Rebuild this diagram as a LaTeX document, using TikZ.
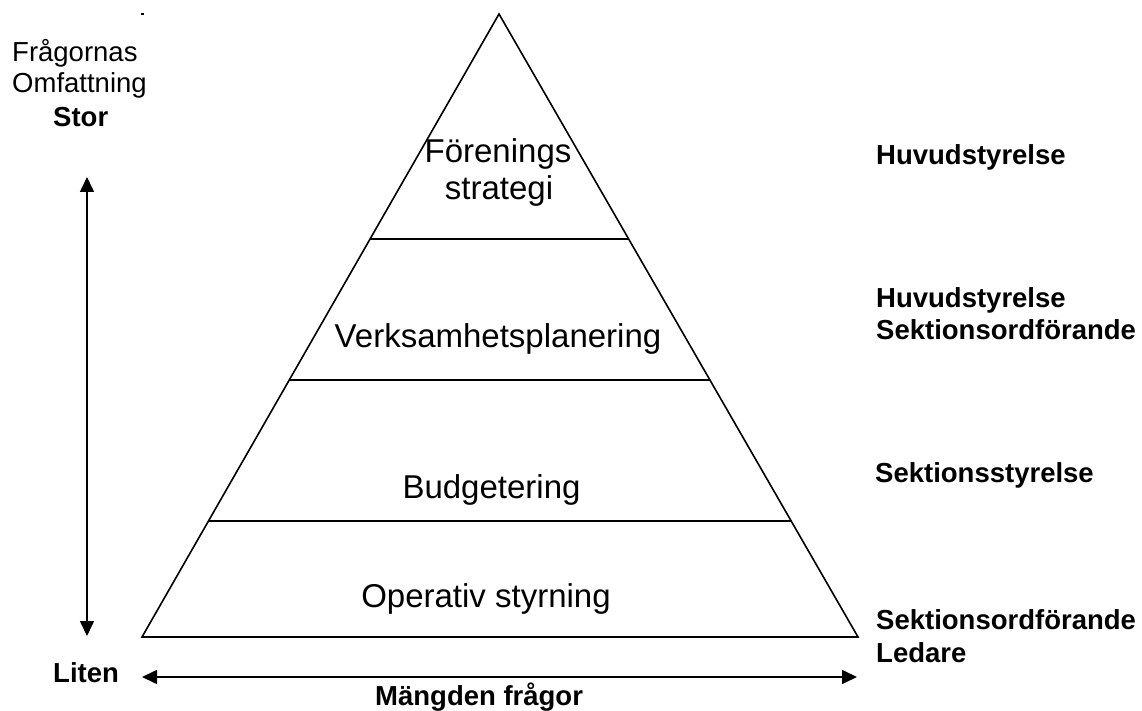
\documentclass[tikz,border=0pt]{standalone}
\usepackage{fontspec}
\setmainfont{Liberation Sans}
\usetikzlibrary{arrows.meta,calc}
\tikzset{
  lbl/.style={inner sep=0pt, font=\fontsize{27.5}{32}\selectfont},
  blbl/.style={inner sep=0pt, font=\fontsize{27.5}{32}\selectfont\bfseries},
  plbl/.style={inner sep=0pt, font=\fontsize{33}{37}\selectfont, anchor=base},
  pyr/.style={line width=1.6pt, line join=miter},
  axis/.style={line width=1.6pt, {Triangle[length=15pt,width=14pt]}-{Triangle[length=15pt,width=14pt]}}
}
\begin{document}
\begin{tikzpicture}[x=1pt,y=-1pt]
\useasboundingbox (0,0) rectangle (1142,711);
% pyramid
\coordinate (apex) at (499,14);
\coordinate (bl) at (142,637);
\coordinate (br) at (858,637);
\draw[pyr] (apex) -- (bl) -- (br) -- cycle;
\coordinate (l1) at ($(apex)!0.3612!(bl)$);
\coordinate (r1) at ($(apex)!0.3612!(br)$);
\coordinate (l2) at ($(apex)!0.5875!(bl)$);
\coordinate (r2) at ($(apex)!0.5875!(br)$);
\coordinate (l3) at ($(apex)!0.8138!(bl)$);
\coordinate (r3) at ($(apex)!0.8138!(br)$);
\draw[pyr] (l1) -- (r1);
\draw[pyr] (l2) -- (r2);
\draw[pyr] (l3) -- (r3);
% pyramid labels
\node[plbl] (p1a) at (498,163) {Förenings};
\node[plbl] (p1b) at (499,200) {strategi};
\node[plbl] (p2) at (498,347) {Verksamhetsplanering};
\node[plbl] (p3) at (491.5,498) {Budgetering};
\node[plbl] (p4) at (486,607) {Operativ styrning};
% left labels
\fill (141,13) rectangle (143.5,15.5);
\node[lbl, anchor=base west] (fr) at (12,62) {Frågornas};
\node[lbl, anchor=base west] (om) at (12,93) {Omfattning};
\node[blbl, anchor=base west] (stor) at (53,127) {Stor};
\node[blbl, anchor=base west] (liten) at (53,682) {Liten};
% axes
\coordinate (vtop) at (87,177);
\coordinate (vbot) at (87,636);
\draw[axis] (vbot) -- (vtop);
\coordinate (hleft) at (142,677);
\coordinate (hright) at (857,677);
\draw[axis] (hleft) -- (hright);
\node[blbl, anchor=base west] (mf) at (375,705) {Mängden frågor};
% right labels
\node[blbl, anchor=base west] (r1t) at (876,165) {Huvudstyrelse};
\node[blbl, anchor=base west] (r2a) at (876,307) {Huvudstyrelse};
\node[blbl, anchor=base west] (r2b) at (876,339) {Sektionsordförande};
\node[blbl, anchor=base west] (r3t) at (875,482) {Sektionsstyrelse};
\node[blbl, anchor=base west] (r4a) at (876,629) {Sektionsordförande};
\node[blbl, anchor=base west] (r4b) at (876,662) {Ledare};
\end{tikzpicture}
\end{document}
